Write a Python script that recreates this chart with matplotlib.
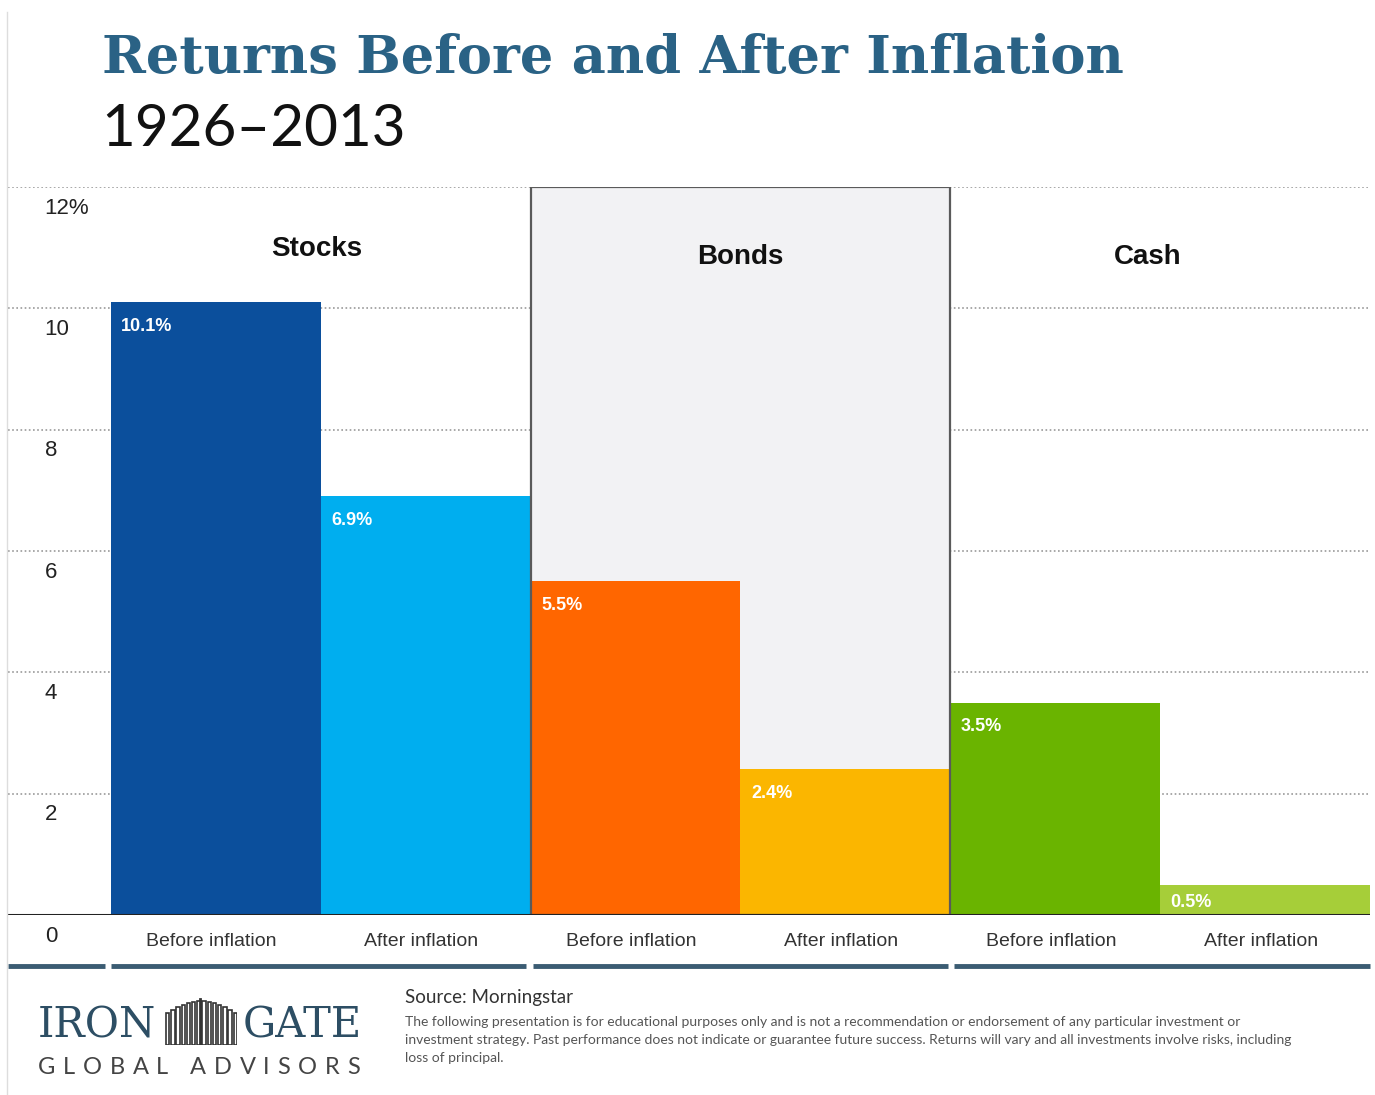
import numpy as np
import matplotlib
matplotlib.use("Agg")
from matplotlib import pyplot as plt
from matplotlib.patches import Rectangle

# data
groups = ['Stocks', 'Bonds', 'Cash']
bar_labels = ['Before inflation', 'After inflation'] * 3
returns = [10.1, 6.9, 5.5, 2.4, 3.5, 0.5]
bar_colors = ['#0b4f9c', '#00aeef', '#ff6600', '#fbb600', '#6ab400', '#a6ce39']
yticks = [0, 2, 4, 6, 8, 10, 12]
ytick_labels = ['0', '2', '4', '6', '8', '10', '12%']

W, H = 1375, 1095
fig = plt.figure(figsize=(W / 100, H / 100), dpi=100)
fig.patch.set_facecolor('white')

# axes placed so that 0..12 maps onto the pixel rows of the reference
ax = fig.add_axes([8 / W, 180 / H, 1362 / W, 728 / H])
ax.set_xlim(-0.49, 6)
ax.set_ylim(0, 12)
ax.axis('off')

# grey panel behind the bonds, its border drawn over the bars
ax.add_patch(Rectangle((2, 0), 2, 12, facecolor='#f2f2f4', edgecolor='none',
                       zorder=1))
ax.add_patch(Rectangle((2, 0), 2, 12, facecolor='none', edgecolor='#5a5a5a',
                       linewidth=1.6, zorder=2.5))

# dotted gridlines
for t in yticks[1:]:
    ax.axhline(t, color='#9a9a9a', linestyle=(0, (1, 1.5)), linewidth=1.2, zorder=0.5)

x = np.arange(len(returns)) + 0.5
ax.bar(x, returns, width=1.0, color=bar_colors, zorder=2, linewidth=0)

# zero line
ax.axhline(0, color='#222222', linewidth=2.2, zorder=3)

# value labels inside bars (top-left)
for xi, v in zip(x, returns):
    ax.text(xi - 0.45, v - min(0.4, v * 0.6), f'{v}%', color='white',
            fontsize=13, fontweight='bold', family='Liberation Sans',
            ha='left', va='center', zorder=4)

# y labels, just under each gridline
for t, lab in zip(yticks, ytick_labels):
    ax.text(-0.315, t - 0.35, lab, fontsize=16, family='Liberation Sans',
            color='#222222', ha='left', va='center', clip_on=False)

# bar category labels
for xi, lab in zip(x, bar_labels):
    ax.text(xi - 0.02, -0.43, lab, fontsize=14, family='Liberation Sans',
            color='#333333', ha='center', va='center', clip_on=False)

# group names
group_x = [0.98, 3.0, 4.94]
group_y = [10.98, 10.85, 10.85]
for g, gx_, gy in zip(groups, group_x, group_y):
    ax.text(gx_, gy, g, fontsize=20, fontweight='bold',
            family='Liberation Sans', color='#111111', ha='center', va='center')

# thick rules under the labels
segs = [(-0.49, -0.03), (0.0, 1.98), (2.01, 3.99), (4.02, 6.0)]
for a, b in segs:
    ax.plot([a, b], [-0.84, -0.84], color='#3b5c73', linewidth=3.5,
            solid_capstyle='butt', clip_on=False)

# faint left border
fig.add_artist(plt.Line2D([7 / W, 7 / W], [0, 1 - 12 / H], color='#dddddd',
                          linewidth=1, transform=fig.transFigure))

# title
fig.text(102 / W, 1 - 58 / H, 'Returns Before and After Inflation',
         fontsize=38, fontweight='bold', family='DejaVu Serif',
         color='#2a6285', ha='left', va='center')
fig.text(101 / W, 1 - 129 / H, '1926\u20132013', fontsize=42,
         family='Lato', color='#111111', ha='left', va='center')

# logo
logo_col = '#2d4e64'
fig.text(38 / W, 1 - 1026 / H, 'IRON', fontsize=30, family='DejaVu Serif',
         color=logo_col, ha='left', va='center')
fig.text(243 / W, 1 - 1026 / H, 'GATE', fontsize=30, family='DejaVu Serif',
         color=logo_col, ha='left', va='center')

# letter-spaced tagline: measure each glyph and add constant tracking
renderer = fig.canvas.get_renderer()
letters = 'GLOBAL ADVISORS'
widths = []
for ch in letters:
    t = fig.text(0, 0, ch if ch != ' ' else 'I', fontsize=17, family='Lato')
    widths.append(t.get_window_extent(renderer).width)
    t.remove()
track = (322 - sum(widths)) / (len(letters) - 1)
xp = 38
for ch, w in zip(letters, widths):
    if ch != ' ':
        fig.text(xp / W, 1 - 1068 / H, ch, fontsize=17, family='Lato',
                 color='#444444', ha='left', va='center')
    xp += w + track

# gate icon
gx = fig.add_axes([163 / W, 1 - 1045 / H, 74 / W, 48 / H])
gx.set_xlim(0, 74)
gx.set_ylim(0, 48)
gx.axis('off')
bar_x = np.arange(3, 72, 5.2)
for bx in bar_x:
    hgt = 30 + 14 * np.cos((bx - 37) / 37 * np.pi / 2)
    gx.add_patch(Rectangle((bx, 0), 3.4, hgt, facecolor='white',
                           edgecolor='#333333', linewidth=1.2))
gx.plot([37, 37], [0, 46], color='#333333', linewidth=2)

# source and disclaimer
fig.text(405 / W, 1 - 998 / H, 'Source: Morningstar', fontsize=13.5,
         family='Lato', color='#333333', ha='left', va='center')
disclaimer = ('The following presentation is for educational purposes only and is not a '
              'recommendation or endorsement of any particular investment or\n'
              'investment strategy. Past performance does not indicate or guarantee '
              'future success. Returns will vary and all investments involve risks, including\n'
              'loss of principal.')
fig.text(405 / W, 1 - 1016 / H, disclaimer, fontsize=10, family='Lato',
         color='#555555', ha='left', va='top', linespacing=1.62)

fig.savefig('out.png', dpi=100, facecolor='white')
